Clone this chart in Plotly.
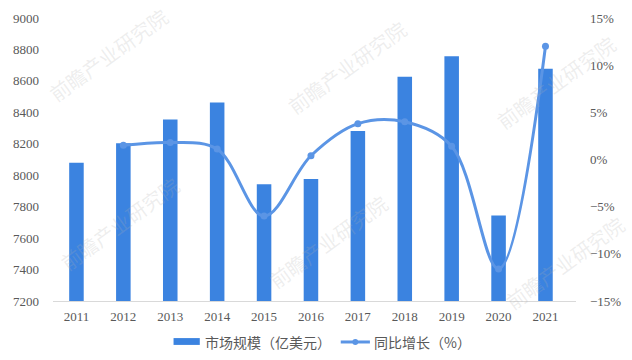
import plotly.graph_objects as go

years = ["2011", "2012", "2013", "2014", "2015", "2016", "2017", "2018", "2019", "2020", "2021"]
market_size = [8080, 8204, 8354, 8462, 7943, 7976, 8282, 8626, 8756, 7744, 8677]
growth_years = years[1:]
growth_pct = [1.5, 1.8, 1.1, -6.0, 0.4, 3.8, 4.0, 1.4, -11.6, 12.0]

bar_name = "市场规模（亿美元）"
line_name = "同比增长（%）"

BAR_COLOR = "#3b83e0"
LINE_COLOR = "#5b95e5"
TICK_FONT = dict(family="Liberation Serif, Times New Roman, serif", size=13, color="#595959")
CJK = "Noto Sans CJK SC, sans-serif"

# plot area in pixels, used to place the hand-drawn legend
L, R, T, B = 53, 591, 11, 301


def px(xp):
    return (xp - L) / (R - L)


def py(yp):
    return (B - yp) / (B - T)


fig = go.Figure()
fig.add_trace(go.Bar(x=years, y=market_size, name=bar_name, marker_color=BAR_COLOR,
                     marker_line_width=0, yaxis="y"))
fig.add_trace(go.Scatter(x=growth_years, y=growth_pct, name=line_name, yaxis="y2",
                         mode="lines+markers",
                         line=dict(color=LINE_COLOR, width=3, shape="spline", smoothing=1.0),
                         marker=dict(size=7, color=LINE_COLOR)))

# faint diagonal watermark text
wm = [(110, 48), (355, 62), (570, 77), (122, 222), (336, 240), (580, 262)]
annotations = []
for (wx, wy) in wm:
    annotations.append(dict(x=px(wx), y=py(wy), xref="paper", yref="paper", text="前瞻产业研究院",
                            xanchor="center", yanchor="middle",
                            showarrow=False, textangle=-36,
                            font=dict(family=CJK, size=20, color="rgba(175,175,175,0.22)")))

# legend drawn at the bottom
shapes = [
    dict(type="rect", xref="paper", yref="paper", x0=px(177), x1=px(204),
         y0=py(346), y1=py(339), fillcolor=BAR_COLOR, line_width=0),
    dict(type="line", xref="paper", yref="paper", x0=px(349), x1=px(379),
         y0=py(343), y1=py(343), line=dict(color=LINE_COLOR, width=3)),
    dict(type="circle", xref="paper", yref="paper", x0=px(361), x1=px(367),
         y0=py(346), y1=py(340), fillcolor=LINE_COLOR, line_width=0),
]
annotations.append(dict(x=px(207), y=py(343), xref="paper", yref="paper", text=bar_name,
                        xanchor="left", yanchor="middle", showarrow=False,
                        font=dict(family=CJK, size=14, color="#595959")))
annotations.append(dict(x=px(381), y=py(343), xref="paper", yref="paper", text=line_name,
                        xanchor="left", yanchor="middle", showarrow=False,
                        font=dict(family=CJK, size=14, color="#595959")))

fig.update_layout(
    width=632, height=360,
    margin=dict(l=L, r=632 - R, t=T, b=360 - B),
    paper_bgcolor="white", plot_bgcolor="white",
    showlegend=False,
    bargap=0.69,
    xaxis=dict(type="category", showgrid=False, showline=True, linecolor="#d9d9d9", linewidth=1,
               ticks="", tickfont=TICK_FONT, ticklabelstandoff=3),
    yaxis=dict(range=[7200, 9000], dtick=200, showgrid=False, zeroline=False, showline=False,
               tickfont=TICK_FONT, ticklabelstandoff=13),
    yaxis2=dict(range=[-15, 15], dtick=5, ticksuffix="%", overlaying="y", side="right",
                showgrid=False, zeroline=False, showline=False, tickfont=TICK_FONT,
                ticklabelstandoff=13),
    annotations=annotations,
    shapes=shapes,
)

fig.write_html("out.html")
